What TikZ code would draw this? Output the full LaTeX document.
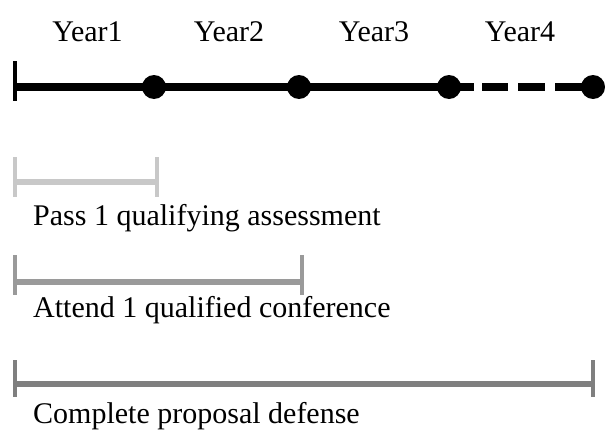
\documentclass[tikz,border=0pt]{standalone}
\usepackage{fontspec}
\setmainfont{Liberation Serif}
\begin{document}
\begin{tikzpicture}[x=1pt,y=-1pt,
  yearlbl/.style={anchor=base,inner sep=0pt,font=\fontsize{30}{36}\selectfont},
  barlbl/.style={anchor=base west,inner sep=0pt,font=\fontsize{30}{36}\selectfont},
  dot/.style={circle,fill=black,inner sep=0pt,minimum size=24pt},
  mainline/.style={line width=8.5pt,black},
  tickbar/.style={line width=4.5pt},
  spanbar/.style={line width=6pt}]
\useasboundingbox (0,0) rectangle (605,431);
\definecolor{barA}{HTML}{C8C8C8}
\definecolor{barB}{HTML}{9A9A9A}
\definecolor{barC}{HTML}{7F7F7F}
% year labels
\node[yearlbl] (y1) at (87.5,41) {Year1};
\node[yearlbl] (y2) at (229,41) {Year2};
\node[yearlbl] (y3) at (374,41) {Year3};
\node[yearlbl] (y4) at (520,41) {Year4};
% timeline
\coordinate (s) at (15,87);
\coordinate (stop) at (15,61);
\coordinate (sbot) at (15,101);
\draw[mainline] (s) -- (299,87) coordinate (d2c);
\draw[mainline,dash pattern=on 25pt off 8pt on 26pt off 10pt on 27pt off 10pt on 40pt] (449,87) coordinate (d3c) -- (593,87) coordinate (d4c);
\draw[mainline] (d2c) -- (d3c);
\draw[tickbar,black] (stop) -- (sbot);
\node[dot] (d1) at (154,87) {};
\node[dot] (d2) at (d2c) {};
\node[dot] (d3) at (d3c) {};
\node[dot] (d4) at (d4c) {};
% bar 1
\coordinate (a1) at (15,182); \coordinate (a2) at (157,182);
\draw[spanbar,barA] (a1) -- (a2);
\draw[tickbar,barA] (15,157) coordinate (a1t) -- (15,197) coordinate (a1b);
\draw[tickbar,barA] (157,157) coordinate (a2t) -- (157,197) coordinate (a2b);
\node[barlbl] (l1) at (33,225) {Pass 1 qualifying assessment};
% bar 2
\coordinate (b1) at (15,282); \coordinate (b2) at (302,282);
\draw[spanbar,barB] (b1) -- (b2);
\draw[tickbar,barB] (15,255) coordinate (b1t) -- (15,295) coordinate (b1b);
\draw[tickbar,barB] (302,255) coordinate (b2t) -- (302,295) coordinate (b2b);
\node[barlbl] (l2) at (33,317) {Attend 1 qualified conference};
% bar 3
\coordinate (c1) at (15,384); \coordinate (c2) at (593,384);
\draw[spanbar,barC] (c1) -- (c2);
\draw[tickbar,barC] (15,360) coordinate (c1t) -- (15,397) coordinate (c1b);
\draw[tickbar,barC] (593,360) coordinate (c2t) -- (593,397) coordinate (c2b);
\node[barlbl] (l3) at (33,423) {Complete proposal defense};
\end{tikzpicture}
\end{document}
